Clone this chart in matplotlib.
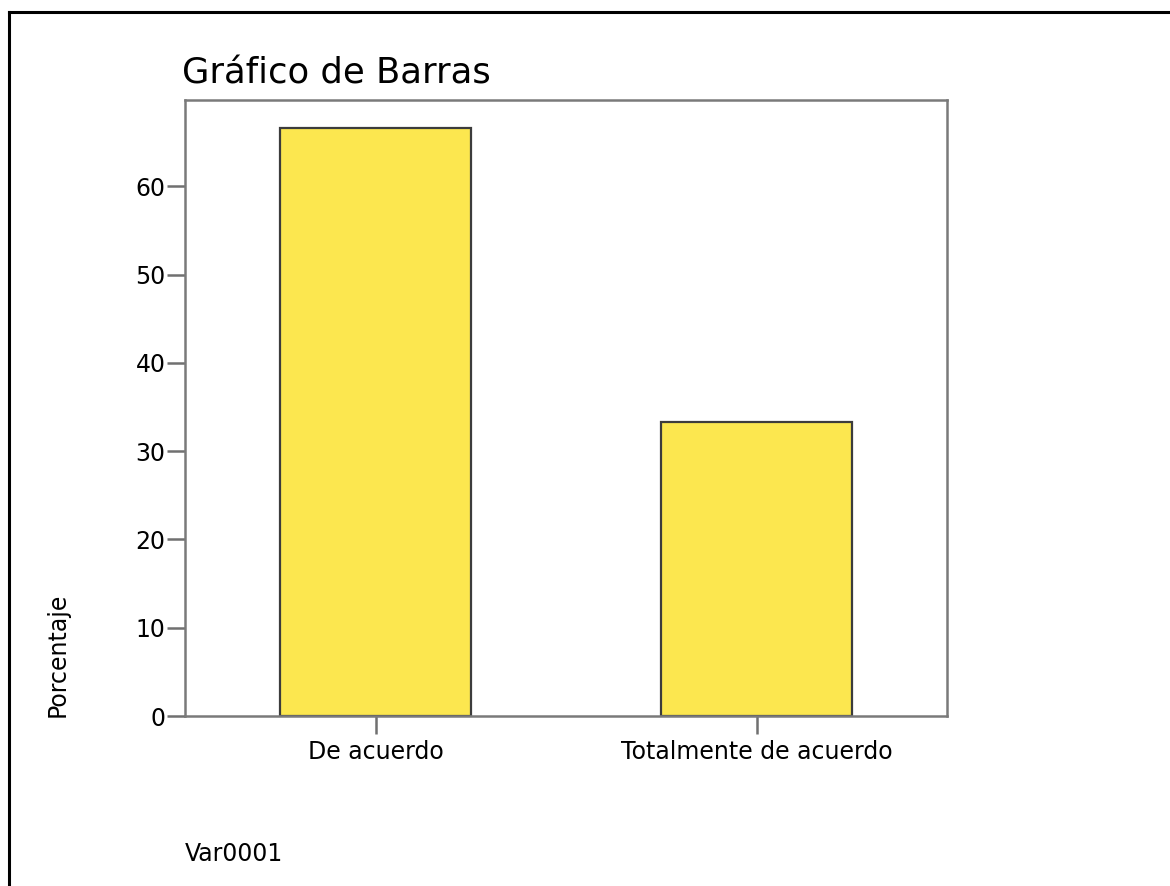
import matplotlib
matplotlib.use('Agg')
import matplotlib.pyplot as plt
from matplotlib.lines import Line2D

# data
categories = ['De acuerdo', 'Totalmente de acuerdo']
percentages = [66.67, 33.33]
yticks = [0, 10, 20, 30, 40, 50, 60]

W, H = 1170, 886
fig = plt.figure(figsize=(W / 100, H / 100), dpi=100)
plt.rcParams['font.family'] = ['DejaVu Sans']

# axes box (pixel positions)
left, right, top, bottom = 185, 947, 100, 716
ax = fig.add_axes([left / W, 1 - bottom / H, (right - left) / W, (bottom - top) / H])

# bars
ax.bar(range(len(categories)), percentages, width=0.5,
       color='#FCE74F', edgecolor='#3c3c3c', linewidth=1.6, zorder=2)

# limits & ticks
ax.set_xlim(-0.5, 1.5)
ax.set_ylim(0, 69.8)
ax.set_xticks(range(len(categories)))
ax.set_xticklabels(categories)
ax.set_yticks(yticks)

ax.tick_params(axis='y', length=13, width=1.8, color='#707070', pad=1,
               labelsize=17, labelcolor='black')
ax.tick_params(axis='x', length=13, width=1.8, color='#707070', pad=4,
               labelsize=17, labelcolor='black')

# spines
for s in ax.spines.values():
    s.set_color('#7a7a7a')
    s.set_linewidth(1.8)

# title, axis label, footer
fig.text(182 / W, 1 - 83 / H, 'Gráfico de Barras', fontsize=25.5,
         ha='left', va='baseline')
fig.text(58 / W, 1 - 717 / H, 'Porcentaje', fontsize=17, rotation=90,
         ha='center', va='bottom')
fig.text(185 / W, 1 - 861 / H, 'Var0001', fontsize=17,
         ha='left', va='baseline')

# outer frame (top and left edges only)
fig.add_artist(Line2D([8.5 / W, 8.5 / W], [0, 1 - 11.5 / H],
                      transform=fig.transFigure, color='black', linewidth=2.2))
fig.add_artist(Line2D([8.5 / W, 1], [1 - 11.5 / H, 1 - 11.5 / H],
                      transform=fig.transFigure, color='black', linewidth=2.2))

fig.savefig('out.png', dpi=100, facecolor='white')
